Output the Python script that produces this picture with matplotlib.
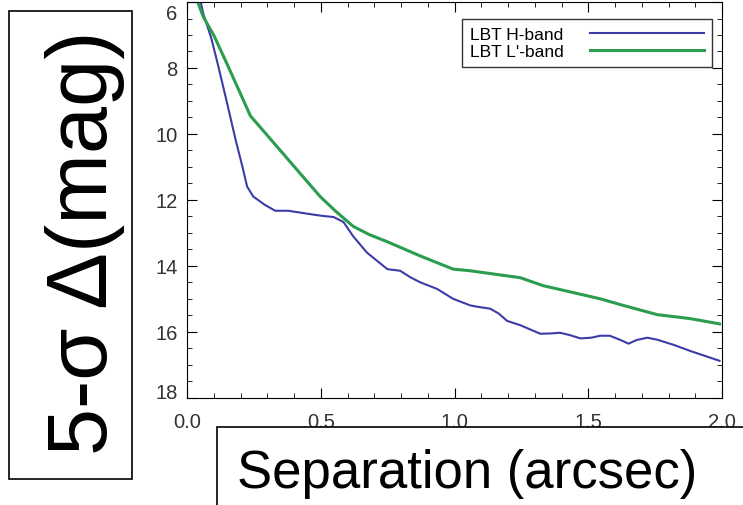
import matplotlib
matplotlib.use("Agg")
import matplotlib.pyplot as plt
import matplotlib.patches as mpatches
import matplotlib.transforms as mtransforms
from matplotlib.ticker import MultipleLocator

plt.rcParams.update({"font.family": ["Liberation Sans", "DejaVu Sans"]})

BLUE, GREEN = "#3c3ca8", "#2a9d4e"

# contrast curves (separation in arcsec, delta mag)
h_sep = [0.045, 0.06, 0.09, 0.116, 0.15, 0.18, 0.205, 0.224, 0.247, 0.29, 0.329,
         0.378, 0.45, 0.50, 0.547, 0.584, 0.62, 0.672, 0.71, 0.748, 0.796, 0.835,
         0.871, 0.934, 0.994, 1.058, 1.084, 1.133, 1.165, 1.196, 1.245, 1.32, 1.36,
         1.394, 1.43, 1.47, 1.51, 1.544, 1.58, 1.62, 1.65, 1.68, 1.72, 1.757, 1.82,
         1.88, 1.99]
h_mag = [5.8, 6.35, 7.1, 7.94, 9.1, 10.15, 10.95, 11.6, 11.9, 12.15, 12.33,
         12.33, 12.42, 12.48, 12.52, 12.67, 13.1, 13.6, 13.85, 14.1, 14.15, 14.35,
         14.5, 14.7, 15.0, 15.2, 15.24, 15.3, 15.45, 15.67, 15.8, 16.06, 16.05,
         16.03, 16.1, 16.2, 16.18, 16.12, 16.12, 16.25, 16.36, 16.25, 16.18, 16.24,
         16.4, 16.58, 16.88]

l_sep = [0.03, 0.06, 0.1, 0.15, 0.2, 0.236, 0.3, 0.4, 0.497, 0.553, 0.62, 0.68,
         0.748, 0.871, 0.994, 1.058, 1.245, 1.33, 1.544, 1.63, 1.757, 1.88, 1.99]
l_mag = [5.8, 6.45, 7.02, 7.9, 8.8, 9.45, 10.05, 10.99, 11.9, 12.33, 12.8, 13.05,
         13.27, 13.7, 14.1, 14.15, 14.36, 14.6, 15.0, 15.2, 15.48, 15.6, 15.76]

fig = plt.figure(figsize=(7.43, 5.06), dpi=100)
ax = fig.add_axes([0.252, 0.212, 0.720, 0.782])

ax.plot(h_sep, h_mag, color=BLUE, lw=1.5, label="LBT H-band")
ax.plot(l_sep, l_mag, color=GREEN, lw=2.2, label="LBT L'-band")

ax.set_xlim(0, 2.0)
ax.set_ylim(18, 6)
ax.xaxis.set_major_locator(MultipleLocator(0.5))
ax.xaxis.set_minor_locator(MultipleLocator(0.1))
ax.yaxis.set_major_locator(MultipleLocator(2))
ax.yaxis.set_minor_locator(MultipleLocator(0.5))
ax.xaxis.set_major_formatter(plt.FormatStrFormatter("%.1f"))
ax.tick_params(which="both", direction="in", top=True, right=True,
               colors="black", labelcolor="#333333", labelsize=14.5)
ax.tick_params(which="major", length=7)
ax.tick_params(which="minor", length=3.6)
ax.tick_params(axis="x", pad=10)
ax.tick_params(axis="y", pad=7)

# end labels of the y axis sit inside the frame in the original
fig.canvas.draw()
for lab in ax.get_yticklabels():
    if lab.get_text() == "6":
        lab.set_transform(lab.get_transform() + mtransforms.ScaledTranslation(0, -6.5 / 72, fig.dpi_scale_trans))
    if lab.get_text() == "18":
        lab.set_transform(lab.get_transform() + mtransforms.ScaledTranslation(0, 5 / 72, fig.dpi_scale_trans))

leg = ax.legend(loc="upper right", bbox_to_anchor=(0.981, 0.957), borderaxespad=0,
                markerfirst=False, handlelength=6.6, fancybox=False, fontsize=12.5,
                edgecolor="black", labelspacing=0.1, borderpad=0.45, handletextpad=1.5)
leg.get_frame().set_linewidth(1.0)

# boxed axis titles
fig.patches.append(mpatches.Rectangle((0.0121, 0.0514), 0.1655, 0.925, transform=fig.transFigure,
                                      facecolor="white", edgecolor="black", lw=1.2, zorder=5))
fig.text(0.114, 0.52, "5-σ Δ(mag)", rotation=90, ha="center", va="center",
         fontsize=61, zorder=6)

fig.patches.append(mpatches.Rectangle((0.292, -0.05), 0.8, 0.204, transform=fig.transFigure,
                                      facecolor="white", edgecolor="black", lw=1.2, zorder=5))
fig.text(0.319, 0.036, "Separation (arcsec)", ha="left", va="baseline",
         fontsize=38, zorder=6)

fig.savefig("out.png", dpi=100, facecolor="white")
